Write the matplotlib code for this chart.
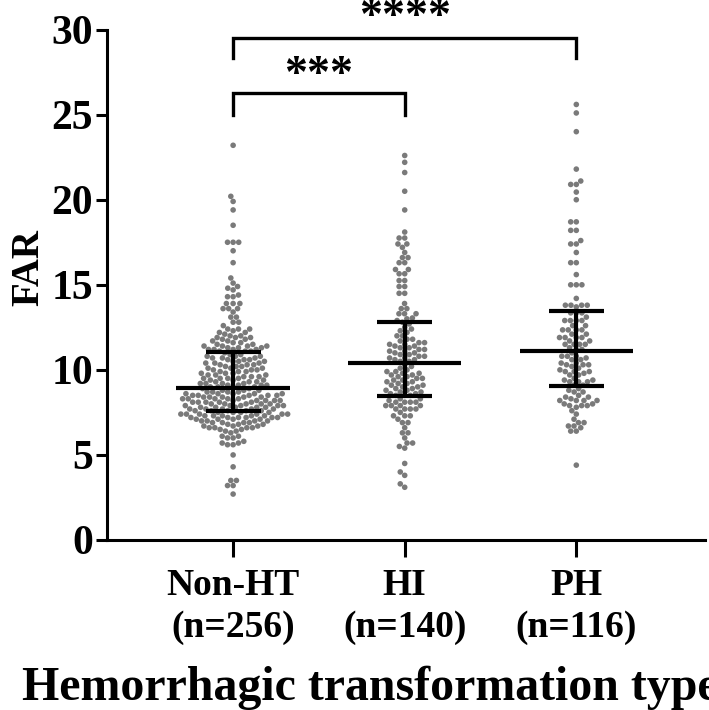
import numpy as np
import matplotlib
matplotlib.use("Agg")
import matplotlib.pyplot as plt

plt.rcParams['font.family'] = ['Liberation Serif', 'DejaVu Serif']
plt.rcParams['font.weight'] = 'bold'

categories = ["Non-HT\n(n=256)", "HI\n(n=140)", "PH\n(n=116)"]

non_ht = [
    2.7, 3.2, 3.2, 3.5, 3.5, 4.3, 5.0, 5.6, 5.6, 5.7,
    5.7, 5.8, 6.0, 6.0, 6.1, 6.1, 6.3, 6.4, 6.4, 6.5,
    6.5, 6.6, 6.6, 6.6, 6.6, 6.7, 6.7, 6.7, 6.8, 6.8,
    6.8, 6.9, 6.9, 6.9, 6.9, 7.0, 7.0, 7.0, 7.0, 7.1,
    7.1, 7.1, 7.1, 7.2, 7.2, 7.2, 7.2, 7.2, 7.2, 7.3,
    7.3, 7.3, 7.3, 7.3, 7.4, 7.4, 7.4, 7.4, 7.4, 7.4,
    7.5, 7.5, 7.5, 7.5,
    7.6, 7.6, 7.6, 7.6, 7.6, 7.7, 7.7, 7.7, 7.7, 7.7,
    7.8, 7.8, 7.8, 7.8, 7.8, 7.9, 7.9, 7.9, 7.9, 7.9,
    8.0, 8.0, 8.0, 8.0, 8.0, 8.1, 8.1, 8.1, 8.1, 8.1,
    8.2, 8.2, 8.2, 8.2, 8.2, 8.3, 8.3, 8.3, 8.3, 8.3,
    8.4, 8.4, 8.4, 8.4, 8.4, 8.5, 8.5, 8.5, 8.5, 8.5,
    8.6, 8.6, 8.6, 8.6, 8.6, 8.7, 8.7, 8.7, 8.7, 8.8,
    8.8, 8.8, 8.9, 8.9,
    9.0, 9.0, 9.0, 9.0, 9.1, 9.1, 9.1, 9.1, 9.2, 9.2,
    9.2, 9.2, 9.3, 9.3, 9.3, 9.4, 9.4, 9.4, 9.5, 9.5,
    9.5, 9.5, 9.6, 9.6, 9.6, 9.7, 9.7, 9.7, 9.8, 9.8,
    9.8, 9.9, 9.9, 9.9, 10.0, 10.0, 10.0, 10.1, 10.1, 10.1,
    10.2, 10.2, 10.2, 10.3, 10.3, 10.3, 10.4, 10.4, 10.4, 10.5,
    10.5, 10.5, 10.6, 10.6, 10.6, 10.7, 10.7, 10.7, 10.8, 10.8,
    10.8, 10.9, 10.9, 11.0,
    11.1, 11.1, 11.1, 11.2, 11.2, 11.2, 11.2, 11.3, 11.3, 11.3,
    11.4, 11.4, 11.4, 11.4, 11.5, 11.5, 11.6, 11.6, 11.7, 11.7,
    11.8, 11.8, 11.9, 11.9, 11.9, 12.0, 12.0, 12.1, 12.2, 12.2,
    12.3, 12.4, 12.4, 12.4, 12.6, 12.8, 12.8, 13.1, 13.1, 13.4,
    13.6, 13.6, 13.6, 13.9, 13.9, 13.9, 14.3, 14.3, 14.4, 14.7,
    14.8, 14.9, 15.1, 15.4, 16.3, 17.0, 17.5, 17.5, 17.5, 18.5,
    19.4, 19.9, 20.2, 23.2,
]

hi = [
    3.1, 3.3, 3.8, 4.0, 4.5, 5.4, 5.5, 5.7, 5.7, 6.0,
    6.3, 6.3, 6.6, 6.9, 6.9, 7.1, 7.3, 7.3, 7.3, 7.5,
    7.7, 7.7, 7.7, 7.7, 7.9, 7.9, 7.9, 7.9, 8.1, 8.1,
    8.1, 8.1, 8.2, 8.3, 8.3,
    8.5, 8.5, 8.5, 8.6, 8.6, 8.7, 8.7, 8.8, 8.8, 8.9,
    8.9, 9.0, 9.0, 9.1, 9.1, 9.2, 9.2, 9.3, 9.3, 9.4,
    9.4, 9.5, 9.5, 9.6, 9.6, 9.7, 9.7, 9.8, 9.8, 9.9,
    9.9, 10.0, 10.1, 10.2, 10.3,
    10.5, 10.5, 10.6, 10.6, 10.7, 10.7, 10.8, 10.8, 10.9, 10.9,
    11.0, 11.0, 11.1, 11.1, 11.2, 11.2, 11.3, 11.3, 11.4, 11.4,
    11.5, 11.5, 11.6, 11.6, 11.7, 11.8, 11.8, 12.0, 12.0, 12.2,
    12.3, 12.4, 12.5, 12.7, 12.8,
    12.9, 13.0, 13.05, 13.3, 13.3, 13.3, 13.6, 13.6, 13.9, 14.5,
    14.5, 14.9, 14.9, 15.25, 15.25, 15.65, 15.65, 15.9, 15.9, 16.3,
    16.3, 16.6, 16.6, 16.9, 17.2, 17.4, 17.4, 17.75, 17.75, 18.1,
    19.4, 20.5, 21.6, 22.2, 22.6,
]

ph = [
    4.4, 6.4, 6.4, 6.6, 6.7, 6.7, 6.9, 6.9, 7.1, 7.4,
    7.6, 7.8, 7.9, 7.9, 7.9, 8.0, 8.0, 8.2, 8.2, 8.2,
    8.2, 8.3, 8.4, 8.4, 8.5, 8.7, 8.7, 8.8, 8.9,
    9.1, 9.1, 9.3, 9.3, 9.3, 9.4, 9.4, 9.5, 9.7, 9.7,
    9.8, 9.9, 9.9, 9.9, 10.0, 10.1, 10.2, 10.3, 10.3, 10.3,
    10.4, 10.4, 10.6, 10.6, 10.7, 10.8, 10.8, 10.8, 11.0,
    11.2, 11.2, 11.3, 11.5, 11.5, 11.5, 11.5, 11.7, 11.7, 11.9,
    11.9, 11.9, 11.9, 12.1, 12.1, 12.35, 12.35, 12.35, 12.35, 12.6,
    12.6, 12.9, 12.9, 12.9, 12.9, 13.1, 13.35, 13.35, 13.35,
    13.7, 13.8, 13.8, 13.8, 13.8, 14.2, 15.0, 15.0, 15.0, 15.6,
    16.3, 16.3, 16.9, 17.4, 17.4, 17.6, 18.2, 18.2, 18.7, 18.7,
    20.0, 20.45, 20.9, 20.9, 21.1, 21.8, 24.0, 25.1, 25.6,
]

groups = [non_ht, hi, ph]
y_ticks = [0, 5, 10, 15, 20, 25, 30]

W, H = 709, 710
fig = plt.figure(figsize=(W / 100, H / 100), dpi=100)
ax_left, ax_right, ax_bottom, ax_top = 107, 705, 540, 29.6
ax = fig.add_axes([ax_left / W, 1 - ax_bottom / H,
                   (ax_right - ax_left) / W, (ax_bottom - ax_top) / H])
xlim = (-0.735, 2.75)
ylim = (0, 30)
ax.set_xlim(*xlim)
ax.set_ylim(*ylim)

px_per_x = (ax_right - ax_left) / (xlim[1] - xlim[0])
px_per_y = (ax_bottom - ax_top) / (ylim[1] - ylim[0])


def swarm_offsets(values, d):
    ys = np.asarray(values, dtype=float) * px_per_y
    order = np.argsort(ys, kind="stable")
    placed = []
    offs = np.zeros(len(ys))
    for i in order:
        y = ys[i]
        cands = [0.0]
        for (px, py) in placed:
            dy = y - py
            if abs(dy) < d:
                dx = np.sqrt(d * d - dy * dy)
                cands.extend([px + dx, px - dx])
        cands = sorted(set(cands), key=lambda c: (abs(c), c))
        chosen = 0.0
        for c in cands:
            ok = True
            for (px, py) in placed:
                if (c - px) ** 2 + (y - py) ** 2 < d * d - 1e-6:
                    ok = False
                    break
            if ok:
                chosen = c
                break
        offs[i] = chosen
        placed.append((chosen, y))
    return offs / px_per_x


dot_px = 5.6
for gi, vals in enumerate(groups):
    offs = swarm_offsets(vals, dot_px)
    ax.scatter(gi + offs, vals, s=(dot_px * 0.72) ** 2, color="#7a7a7a",
               edgecolors="none", zorder=2, clip_on=False)
    q1, med, q3 = np.percentile(vals, [25, 50, 75])
    ax.plot([gi - 0.33, gi + 0.33], [med, med], color="black", lw=3.0,
            solid_capstyle="butt", zorder=3)
    ax.plot([gi - 0.16, gi + 0.16], [q1, q1], color="black", lw=3.0,
            solid_capstyle="butt", zorder=3)
    ax.plot([gi - 0.16, gi + 0.16], [q3, q3], color="black", lw=3.0,
            solid_capstyle="butt", zorder=3)
    ax.plot([gi, gi], [q1, q3], color="black", lw=3.0,
            solid_capstyle="butt", zorder=3)

# significance brackets
ax.plot([0, 0, 2, 2], [28.35, 29.5, 29.5, 28.35], color="black", lw=2.4,
        clip_on=False, solid_joinstyle="miter")
ax.text(1, 29.45, "****", ha="center", va="bottom", fontsize=33,
        fontweight="bold", clip_on=False)
ax.plot([0, 0, 1, 1], [25.0, 26.3, 26.3, 25.0], color="black", lw=2.4,
        clip_on=False, solid_joinstyle="miter")
ax.text(0.5, 26.05, "***", ha="center", va="bottom", fontsize=33,
        fontweight="bold", clip_on=False)

for s in ["top", "right"]:
    ax.spines[s].set_visible(False)
for s in ["left", "bottom"]:
    ax.spines[s].set_linewidth(2.2)

ax.set_yticks(y_ticks)
ax.set_yticklabels([str(t) for t in y_ticks])
ax.set_xticks(range(len(categories)))
ax.set_xticklabels(categories, linespacing=1.25)
ax.tick_params(axis="y", length=8, width=2.2, labelsize=30, pad=2)
ax.tick_params(axis="x", length=12, width=2.2, labelsize=27, pad=8)
for lab in ax.get_xticklabels() + ax.get_yticklabels():
    lab.set_fontweight("bold")

fig.text(29 / W, 1 - 268 / H, "FAR", rotation=90, ha="center", va="center",
         fontsize=28, fontweight="bold")
fig.text(370 / W, 1 - 688 / H, "Hemorrhagic transformation type",
         ha="center", va="center", fontsize=34.5, fontweight="bold")

fig.savefig("out.png", dpi=100)
